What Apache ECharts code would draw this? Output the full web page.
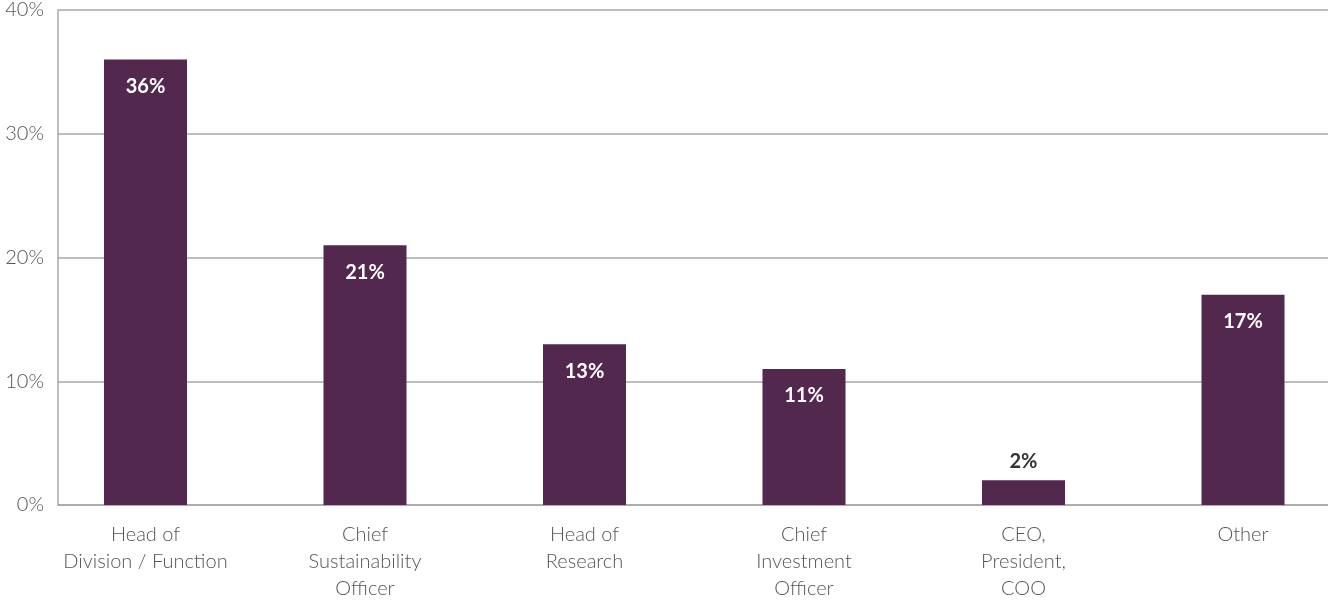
<!DOCTYPE html>
<html>
<head>
<meta charset="utf-8">
<script src="https://cdn.jsdelivr.net/npm/echarts@6/dist/echarts.min.js"></script>
<style>
html,body{margin:0;padding:0;background:#fff;}
#chart{width:1328px;height:600px;}
</style>
</head>
<body>
<div id="chart"></div>
<script>
const categories = ['Head of\nDivision / Function', 'Chief\nSustainability\nOfficer', 'Head of\nResearch', 'Chief\nInvestment\nOfficer', 'CEO,\nPresident,\nCOO', 'Other'];
const values = [36, 21, 13, 11, 2, 17];
const yTicks = [0, 10, 20, 30, 40];

const FONT = 'Lato, "Open Sans", sans-serif';
const BAR = '#52284f';

const chart = echarts.init(document.getElementById('chart'));
chart.setOption({
  animation: false,
  grid: [
    { left: 58, right: 0, top: 10, bottom: 95, outerBoundsMode: 'none' },
    { left: 35.75, width: 1317, top: 10, bottom: 95, outerBoundsMode: 'none' }
  ],
  xAxis: [
    { gridIndex: 0, type: 'value', min: 0, max: 1, show: true,
      axisLine: { show: true, onZero: false, lineStyle: { color: '#a8a8a8', width: 1.5 } },
      axisTick: { show: false }, axisLabel: { show: false }, splitLine: { show: false } },
    { gridIndex: 1, type: 'category', data: categories,
      axisLine: { show: false }, axisTick: { show: false },
      axisLabel: { interval: 0, margin: 16, color: '#555', fontFamily: FONT, fontWeight: 300, fontSize: 20, lineHeight: 27, align: 'center' } }
  ],
  yAxis: [
    { gridIndex: 0, type: 'value', min: yTicks[0], max: yTicks[yTicks.length - 1], interval: 10,
      axisLine: { show: true, lineStyle: { color: '#a8a8a8', width: 1.5 } },
      axisTick: { show: false },
      axisLabel: { margin: 14, color: '#555', fontFamily: FONT, fontWeight: 300, fontSize: 20, formatter: v => v + '%' },
      splitLine: { show: true, lineStyle: { color: '#a8a8a8', width: 1.5 } } },
    { gridIndex: 1, type: 'value', min: 0, max: 40, show: false, splitLine: { show: false } }
  ],
  series: [{
    type: 'bar',
    xAxisIndex: 1, yAxisIndex: 1,
    barWidth: 83,
    itemStyle: { color: BAR },
    data: values.map(v => ({
      value: v,
      label: v < 5
        ? { show: true, position: 'top', distance: 9, color: '#333', fontFamily: FONT, fontWeight: 'bold', fontSize: 20, formatter: '{c}%' }
        : { show: true, position: 'insideTop', distance: 17, color: '#fff', fontFamily: FONT, fontWeight: 'bold', fontSize: 20, formatter: '{c}%' }
    }))
  }]
});
</script>
</body>
</html>
